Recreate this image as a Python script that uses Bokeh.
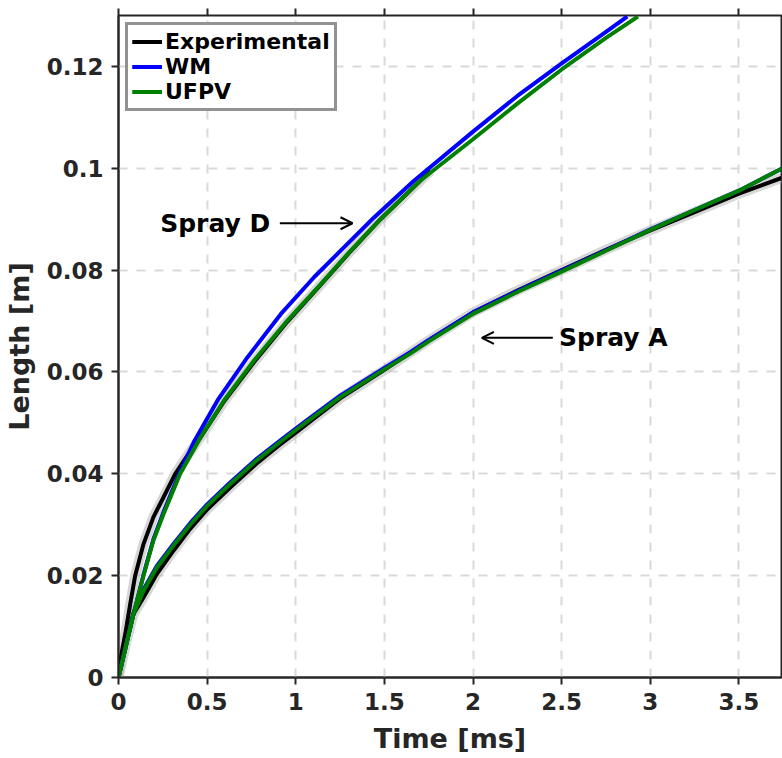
from bokeh.plotting import figure
from bokeh.models import (Range1d, FixedTicker, CustomJSTickFormatter, LinearAxis,
                          Arrow, OpenHead, Label)
from bokeh.embed import file_html
from bokeh.resources import INLINE

# ---------------- data ----------------
# Spray A
t_a_exp = [0, 0.05, 0.085, 0.141, 0.216, 0.31, 0.404, 0.5, 0.63, 0.785, 0.91, 1.0,
           1.1, 1.25, 1.5, 1.75, 2.0, 2.25, 2.5, 2.75, 3.0, 3.25, 3.5, 3.74]
y_a_exp = [0, 0.0078, 0.0125, 0.0157, 0.0203, 0.0249, 0.0292, 0.0330, 0.0373, 0.0422,
           0.0457, 0.0481, 0.0508, 0.0548, 0.0604, 0.0662, 0.0717, 0.0760, 0.0800,
           0.0840, 0.0878, 0.0914, 0.0950, 0.0981]

t_a_sim = [0, 0.085, 0.141, 0.216, 0.31, 0.404, 0.5, 0.63, 0.785, 0.91, 1.0, 1.1,
           1.253, 1.5, 1.646, 1.75, 2.0, 2.25, 2.5, 2.75, 3.0, 3.25, 3.5, 3.75]
y_a_wm = [0, 0.0127, 0.0173, 0.0219, 0.0262, 0.0303, 0.0340, 0.0383, 0.0431, 0.0465,
          0.0489, 0.0515, 0.0554, 0.0608, 0.0639, 0.0663, 0.0717, 0.0759, 0.0799,
          0.0839, 0.0880, 0.0918, 0.0956, 0.1001]
y_a_ufpv = [0, 0.0125, 0.0170, 0.0216, 0.0259, 0.0300, 0.0337, 0.0380, 0.0428, 0.0462,
            0.0486, 0.0512, 0.0551, 0.0605, 0.0636, 0.0660, 0.0714, 0.0757, 0.0797,
            0.0838, 0.0879, 0.0918, 0.0956, 0.1001]

# Spray D
t_d_exp = [0, 0.0094, 0.038, 0.066, 0.094, 0.141, 0.197, 0.254, 0.32, 0.395, 0.46,
           0.597, 0.766, 0.953, 1.14, 1.309, 1.478, 1.76]
y_d_exp = [0, 0.0033, 0.0085, 0.0144, 0.0200, 0.0262, 0.0315, 0.0354, 0.0400, 0.0439,
           0.0470, 0.0543, 0.0620, 0.0699, 0.0771, 0.0837, 0.0900, 0.0995]

t_d_wm = [0, 0.085, 0.141, 0.197, 0.254, 0.348, 0.429, 0.56, 0.728, 0.916, 1.103,
          1.29, 1.44, 1.665, 2.0, 2.25, 2.5, 2.75, 2.87]
y_d_wm = [0, 0.0125, 0.0202, 0.0272, 0.0325, 0.0405, 0.0465, 0.0545, 0.0629, 0.0714,
          0.0786, 0.0851, 0.0903, 0.0975, 0.1072, 0.1142, 0.1206, 0.1268, 0.1298]

t_d_ufpv = [0, 0.085, 0.141, 0.197, 0.254, 0.348, 0.457, 0.597, 0.766, 0.953, 1.14,
            1.309, 1.478, 1.70, 2.0, 2.25, 2.5, 2.75, 2.93]
y_d_ufpv = [0, 0.0125, 0.0200, 0.0269, 0.0321, 0.0400, 0.0468, 0.0545, 0.0623, 0.0701,
            0.0772, 0.0838, 0.0900, 0.0975, 0.1057, 0.1127, 0.1194, 0.1256, 0.1298]

x_ticks = [0, 0.5, 1, 1.5, 2, 2.5, 3, 3.5]
y_ticks = [0, 0.02, 0.04, 0.06, 0.08, 0.1, 0.12]

series_names = ["Experimental", "WM", "UFPV"]
series_colors = ["black", "#0000ff", "#008000"]

# ---------------- figure ----------------
FONT = "DejaVu Sans"
AX = "#262626"

p = figure(width=782, height=758, output_backend="svg", toolbar_location=None,
           x_range=Range1d(0, 3.74), y_range=Range1d(0, 0.13),
           min_border_left=118, min_border_right=1, min_border_top=15,
           min_border_bottom=81)
p.background_fill_color = "white"
p.border_fill_color = "white"
p.outline_line_color = AX
p.outline_line_width = 2

fmt = CustomJSTickFormatter(code="return String(Math.round(tick*1000)/1000);")

for ax in (p.xaxis[0], p.yaxis[0]):
    ax.formatter = fmt
    ax.axis_line_color = AX
    ax.axis_line_width = 2
    ax.major_tick_line_color = AX
    ax.major_tick_line_width = 2
    ax.major_tick_in = 0
    ax.major_tick_out = 7
    ax.minor_tick_line_color = None
    ax.major_label_text_font = FONT
    ax.major_label_text_font_style = "bold"
    ax.major_label_text_font_size = "23px"
    ax.major_label_text_color = AX
    ax.major_label_standoff = 8
    ax.axis_label_text_font = FONT
    ax.axis_label_text_font_style = "bold"
    ax.axis_label_text_font_size = "27px"
    ax.axis_label_text_color = AX

p.xaxis[0].ticker = FixedTicker(ticks=x_ticks)
p.yaxis[0].ticker = FixedTicker(ticks=y_ticks)
p.xaxis[0].axis_label = "Time [ms]"
p.yaxis[0].axis_label = "Length [m]"
p.xaxis[0].axis_label_standoff = 10
p.yaxis[0].axis_label_standoff = 9

top = LinearAxis(ticker=FixedTicker(ticks=x_ticks),
                 formatter=CustomJSTickFormatter(code="return '';"),
                 axis_line_color=None, major_tick_line_color=AX, major_tick_line_width=2,
                 major_tick_in=0, major_tick_out=7, minor_tick_line_color=None,
                 major_label_standoff=0, major_label_text_font_size="10px")
p.add_layout(top, "above")

p.xgrid.ticker = FixedTicker(ticks=x_ticks)
p.ygrid.ticker = FixedTicker(ticks=y_ticks)
for g in (p.xgrid[0], p.ygrid[0]):
    g.grid_line_color = "#d9d9d9"
    g.grid_line_width = 2
    g.grid_line_dash = "9 9"

# experimental uncertainty halo
for tx, ty in ((t_a_exp, y_a_exp), (t_d_exp, y_d_exp)):
    p.line(tx, ty, line_color="#b0b0b0", line_width=10, line_alpha=0.5,
           line_join="round")

# experimental
p.line(t_a_exp, y_a_exp, line_color=series_colors[0], line_width=4, line_join="round",
       legend_label=series_names[0])
p.line(t_d_exp, y_d_exp, line_color=series_colors[0], line_width=4, line_join="round",
       legend_label=series_names[0])
# WM
p.line(t_a_sim, y_a_wm, line_color=series_colors[1], line_width=4, line_join="round",
       legend_label=series_names[1])
p.line(t_d_wm, y_d_wm, line_color=series_colors[1], line_width=4, line_join="round",
       legend_label=series_names[1])
# UFPV
p.line(t_a_sim, y_a_ufpv, line_color=series_colors[2], line_width=4, line_join="round",
       legend_label=series_names[2])
p.line(t_d_ufpv, y_d_ufpv, line_color=series_colors[2], line_width=4, line_join="round",
       legend_label=series_names[2])

lg = p.legend[0]
lg.location = "top_left"
lg.margin = 7
lg.padding = 4
lg.spacing = 0
lg.glyph_width = 30
lg.glyph_height = 25
lg.label_height = 25
lg.label_standoff = 3
lg.label_text_font = FONT
lg.label_text_font_style = "bold"
lg.label_text_font_size = "22px"
lg.label_text_color = "black"
lg.border_line_color = AX
lg.border_line_width = 3
lg.background_fill_alpha = 1.0

# annotations
p.add_layout(Label(x=0.235, y=0.0892, text="Spray D", text_font=FONT,
                   text_font_style="bold", text_font_size="25px",
                   text_baseline="middle", text_color="black"))
p.add_layout(Arrow(end=OpenHead(size=12, line_width=2, line_color="black"),
                   x_start=0.91, y_start=0.0892, x_end=1.32, y_end=0.0892,
                   line_width=2, line_color="black"))
p.add_layout(Label(x=2.485, y=0.0667, text="Spray A", text_font=FONT,
                   text_font_style="bold", text_font_size="25px",
                   text_baseline="middle", text_color="black"))
p.add_layout(Arrow(end=OpenHead(size=12, line_width=2, line_color="black"),
                   x_start=2.45, y_start=0.0667, x_end=2.05, y_end=0.0667,
                   line_width=2, line_color="black"))

open("out.html", "w").write(file_html(p, INLINE))
